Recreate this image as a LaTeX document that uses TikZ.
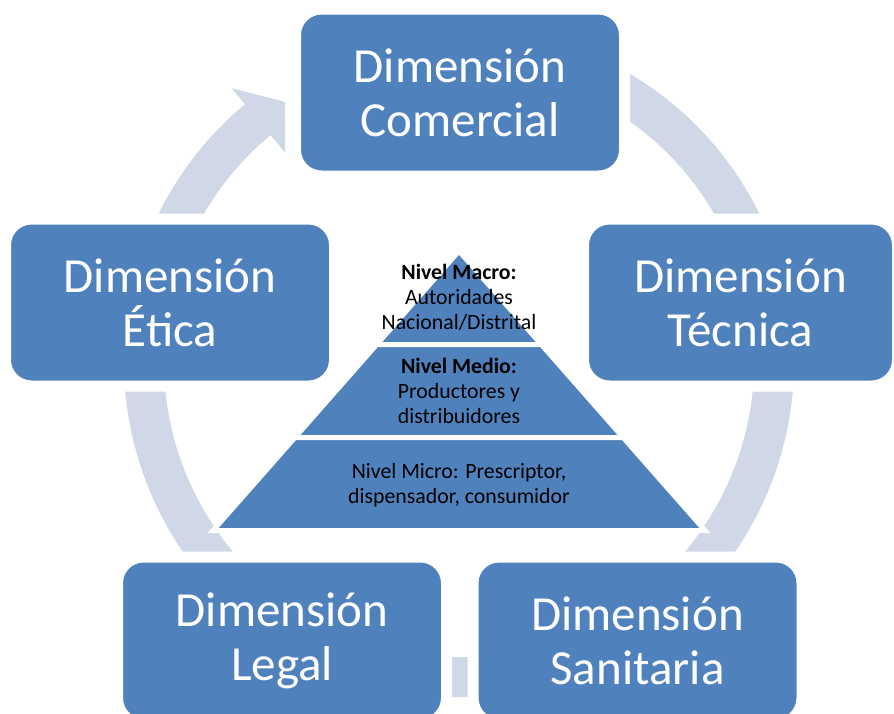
\documentclass[tikz,border=0pt]{standalone}
\usepackage{fontspec}
\setmainfont{Carlito}
\definecolor{azulcaja}{HTML}{4F81BD}
\definecolor{azulclaro}{HTML}{D0D8E8}
\tikzset{
  dimension/.style={rectangle, rounded corners=26pt, fill=azulcaja, draw=white,
    line width=11pt, text=white, align=center, inner sep=0pt,
    minimum width=329pt, minimum height=167pt,
    font=\fontsize{49}{54}\selectfont},
  anillo/.style={draw=azulclaro, line width=40pt},
  nivel/.style={fill=azulcaja, draw=white, line width=5pt},
  nivtexto/.style={align=center, text=black, inner sep=0pt,
    font=\fontsize{21.8}{25}\selectfont}
}
\begin{document}
\begin{tikzpicture}[x=1pt, y=-1pt]
    \useasboundingbox (0,0) rectangle (894,713);
    \clip (0,0) rectangle (894,713);

    % Anello con freccia
    \coordinate (c) at (459,362);
    \draw[anillo] (c) ++(250:315) arc[start angle=250, end angle=590.8, radius=315];
    \fill[azulclaro, shift={(c)}] (230.3:272) -- (236.2:313) -- (230.3:356) -- cycle;

    % Piramide
    \draw[nivel] (459,251) -- (541.3,344.5) -- (376.7,344.5) -- cycle;
    \draw[nivel] (376.7,344.5) -- (541.3,344.5) -- (623.1,437.5) -- (294.9,437.5) -- cycle;
    \draw[nivel] (294.9,437.5) -- (623.1,437.5) -- (705,530.5) -- (213,530.5) -- cycle;
    \node[nivtexto] (macro) at (459,297) {\textbf{Nivel Macro:}\\Autoridades\\Nacional/Distrital};
    \node[nivtexto] (medio) at (459,390.5) {\textbf{Nivel Medio:}\\Productores y\\distribuidores};
    \node[nivtexto] (micro) at (459,485) {Nivel Micro: Prescriptor,\\dispensador, consumidor};

    % Dimensioni
    \node[dimension] (comercial) at (460,92.5) {Dimensión\\Comercial};
    \node[dimension, minimum width=314pt] (tecnica) at (740.5,302.5) {Dimensión\\Técnica};
    \node[dimension] (sanitaria) at (637.5,640.5) {Dimensión\\Sanitaria};
    \node[dimension] (legal) at (282,640.5) {Dimensión\\Legal};
    \node[dimension] (etica) at (170,302.5) {Dimensión\\Ética};
\end{tikzpicture}
\end{document}
